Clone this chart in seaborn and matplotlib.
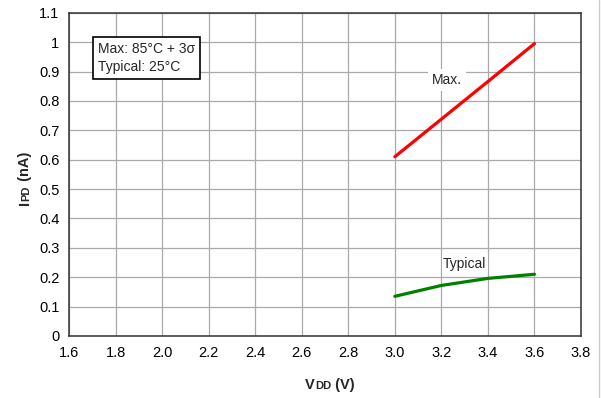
import pandas as pd
import matplotlib.pyplot as plt
import seaborn as sns

# data
vdd = [3.0, 3.2, 3.4, 3.6]
ipd_max = [0.61, 0.738, 0.866, 0.995]
ipd_typ = [0.135, 0.172, 0.196, 0.21]

data = pd.DataFrame({
    'VDD': vdd * 2,
    'IPD': ipd_max + ipd_typ,
    'Series': ['Max.'] * len(vdd) + ['Typical'] * len(vdd),
})

sns.set_style("white")
plt.rcParams['font.family'] = ['Liberation Sans', 'DejaVu Sans']

fig = plt.figure(figsize=(6.01, 3.98), dpi=100)
ax = fig.add_axes([0.1148, 0.1558, 0.852, 0.8122])

sns.lineplot(x='VDD', y='IPD', hue='Series', data=data, ax=ax,
             palette={'Max.': '#ff0000', 'Typical': '#008000'},
             linewidth=2.3, legend=False, zorder=3)

ax.set_xlim(1.6, 3.8)
ax.set_ylim(0, 1.1)
xticks = [1.6 + 0.2 * i for i in range(12)]
yticks = [0.1 * i for i in range(12)]
ax.set_xticks(xticks)
ax.set_xticklabels([f'{t:.1f}' for t in xticks])
ax.set_yticks(yticks)
ax.set_yticklabels([f'{t:.1f}'.rstrip('0').rstrip('.') if t > 0 else '0' for t in yticks])
ax.tick_params(length=0, labelsize=10.5, colors='#000000', pad=7)
ax.grid(True, color='#aaaaaa', linewidth=0.9)
for s in ax.spines.values():
    s.set_color('#333333')
    s.set_linewidth(1.1)
ax.set_xlabel('')
ax.set_ylabel('')

# line labels
ax.text(3.225, 0.87, 'Max.', fontsize=10, ha='center', va='center', zorder=4,
        bbox=dict(facecolor='white', edgecolor='none', pad=3))
ax.text(3.30, 0.246, 'Typical', fontsize=10, ha='center', va='center', zorder=4,
        bbox=dict(facecolor='white', edgecolor='none', pad=1))

# condition box
ax.text(1.725, 1.0, 'Max: 85\u00b0C + 3\u03c3\nTypical: 25\u00b0C', fontsize=10,
        ha='left', va='top', linespacing=1.35, zorder=5,
        bbox=dict(facecolor='white', edgecolor='black', linewidth=1.2,
                  boxstyle='square,pad=0.35'))

# axis labels with small-caps subscripts
renderer = fig.canvas.get_renderer()


def compose(parts, x, y, rotation=0):
    # parts: list of (text, size); placed one after another
    pos = x if rotation == 0 else y
    for txt, size in parts:
        if rotation == 0:
            t = fig.text(pos, y, txt, fontsize=size, fontweight='bold',
                         ha='left', va='baseline')
            w = t.get_window_extent(renderer).width / fig.bbox.width
        else:
            t = fig.text(x, pos, txt, fontsize=size, fontweight='bold',
                         rotation=90, ha='left', va='baseline',
                         rotation_mode='anchor')
            w = t.get_window_extent(renderer).height / fig.bbox.height
        pos += w


compose([('V', 10.5), ('DD', 8), (' (V)', 10.5)], 0.508, 0.023)
compose([('I', 10.5), ('PD', 8), (' (nA)', 10.5)], 0.048, 0.485, rotation=90)

fig.add_artist(plt.Line2D([0.996, 0.996], [0, 1], color='#cccccc', linewidth=1))

fig.savefig('out.png', dpi=100)
